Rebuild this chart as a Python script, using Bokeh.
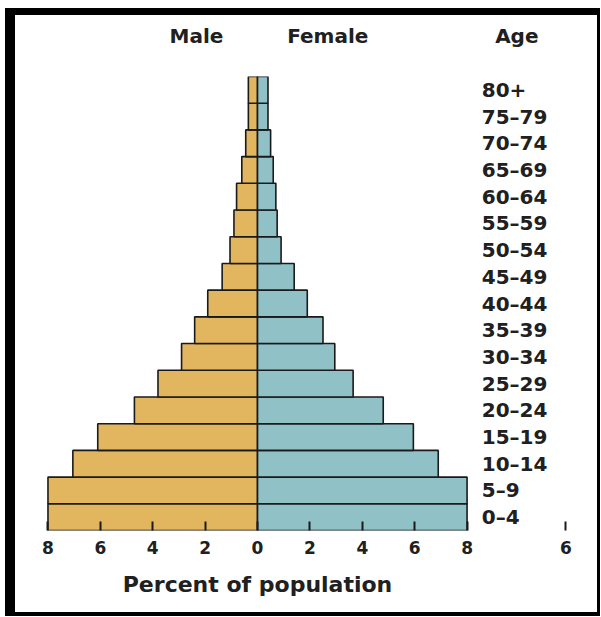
from bokeh.plotting import figure
from bokeh.models import FactorRange, Range1d, FixedTicker, LinearAxis, ColumnDataSource
from bokeh.core.properties import value
from bokeh.embed import file_html
from bokeh.resources import INLINE

# ---- data ----
age_groups = ["0–4", "5–9", "10–14", "15–19", "20–24", "25–29", "30–34", "35–39",
              "40–44", "45–49", "50–54", "55–59", "60–64", "65–69", "70–74", "75–79", "80+"]
male_pct = [8.0, 8.0, 7.05, 6.1, 4.7, 3.8, 2.9, 2.4, 1.9, 1.35, 1.05, 0.9, 0.8, 0.6, 0.45, 0.35, 0.35]
female_pct = [8.0, 8.0, 6.9, 5.95, 4.8, 3.65, 2.95, 2.5, 1.9, 1.4, 0.9, 0.75, 0.7, 0.6, 0.5, 0.4, 0.4]
x_ticks = [-8, -6, -4, -2, 0, 2, 4, 6, 8]
x_tick_labels = ["8", "6", "4", "2", "0", "2", "4", "6", "8"]
# fragment of a neighbouring chart's axis visible at the bottom right
stray_tick = 11.77
stray_tick_label = "6"
headers = ["Male", "Female", "Age"]
header_pos = [-2.33, 2.68, 9.9]
x_axis_title = "Percent of population"

MALE_COLOR = "#E2B55F"
FEMALE_COLOR = "#8FC1C7"
EDGE = "#1a1a1a"
TEXT = "#202020"
FONT = "DejaVu Sans"

src = ColumnDataSource(dict(
    age=age_groups,
    male_left=[-v for v in male_pct],
    female_right=female_pct,
    label_x=[8.56] * len(age_groups),
))

p = figure(width=582, height=597,
           x_range=Range1d(-8.4, 12.98),
           y_range=FactorRange(factors=age_groups, range_padding=0),
           x_axis_location=None, y_axis_location=None,
           output_backend="svg", toolbar_location=None,
           min_border_left=22, min_border_right=13,
           min_border_top=61, min_border_bottom=93)

p.styles = {"box-sizing": "content-box", "margin-left": "5px", "margin-top": "8px",
            "border-style": "solid", "border-color": "black",
            "border-width": "7px 3px 4px 10px"}

p.outline_line_color = None
p.grid.visible = False
p.background_fill_color = "white"
p.border_fill_color = "white"

p.hbar(y="age", left="male_left", right=0, height=1.0, source=src,
       fill_color=MALE_COLOR, line_color=EDGE, line_width=1.6)
p.hbar(y="age", left=0, right="female_right", height=1.0, source=src,
       fill_color=FEMALE_COLOR, line_color=EDGE, line_width=1.6)

# age group labels at the right of the pyramid
p.text(x="label_x", y="age", text="age", source=src,
       text_align="left", text_baseline="middle",
       text_font=value(FONT), text_font_style="bold",
       text_font_size="20px", text_color=TEXT)

# bottom axis: percent of population
ticks = x_ticks + [stray_tick]
labels = x_tick_labels + [stray_tick_label]
xa = LinearAxis(ticker=FixedTicker(ticks=ticks))
xa.major_label_overrides = {t: l for t, l in zip(ticks, labels)}
xa.axis_line_color = None
xa.major_tick_in = 9
xa.major_tick_out = 0
xa.major_tick_line_width = 2
xa.major_tick_line_color = EDGE
xa.minor_tick_line_color = None
xa.major_label_standoff = 10
xa.major_label_text_font = FONT
xa.major_label_text_font_style = "bold"
xa.major_label_text_font_size = "17px"
xa.major_label_text_color = TEXT
p.add_layout(xa, "below")

# axis title, centred under the pyramid
xt = LinearAxis(ticker=FixedTicker(ticks=[0]))
xt.major_label_overrides = {0: x_axis_title}
xt.axis_line_color = None
xt.major_tick_line_color = None
xt.minor_tick_line_color = None
xt.major_label_standoff = 9
xt.major_label_text_font = FONT
xt.major_label_text_font_style = "bold"
xt.major_label_text_font_size = "22px"
xt.major_label_text_color = TEXT
p.add_layout(xt, "below")

# column headers above the pyramid
ha = LinearAxis(ticker=FixedTicker(ticks=header_pos))
ha.major_label_overrides = {t: h for t, h in zip(header_pos, headers)}
ha.axis_line_color = None
ha.major_tick_line_color = None
ha.minor_tick_line_color = None
ha.major_label_standoff = 23
ha.major_label_text_font = FONT
ha.major_label_text_font_style = "bold"
ha.major_label_text_font_size = "20px"
ha.major_label_text_color = TEXT
p.add_layout(ha, "above")

open("out.html", "w").write(file_html(p, INLINE))
